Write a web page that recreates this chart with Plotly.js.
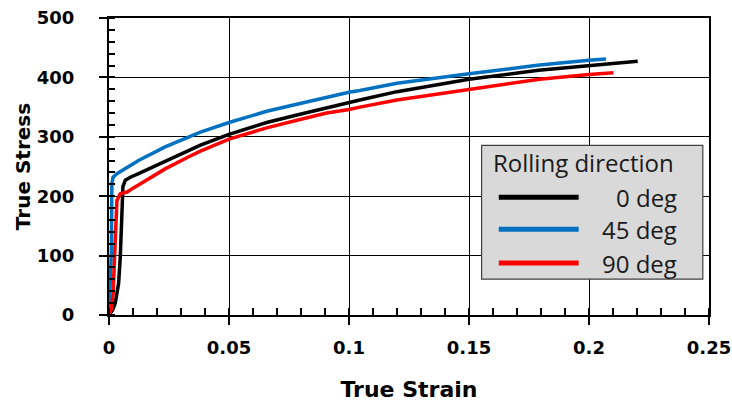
<!DOCTYPE html>
<html>
<head>
<meta charset="utf-8">
<script src="https://cdn.plot.ly/plotly-3.0.1.min.js"></script>
<style>
html,body{margin:0;padding:0;background:#fff;}
#chart{width:732px;height:403px;}
</style>
</head>
<body>
<div id="chart"></div>
<script>
// Data
const names = ["0 deg", "45 deg", "90 deg"];
const colors = ["#000000", "#0070C0", "#FF0000"];

const strain0 = [0, 0.0015, 0.0026, 0.004, 0.0047, 0.0054, 0.0058, 0.0068, 0.0089, 0.0123, 0.0234, 0.033, 0.0381, 0.05, 0.0657, 0.0796, 0.0907, 0.1, 0.1045, 0.12, 0.15, 0.179, 0.2, 0.2203];
const stress0 = [0, 8, 20, 53, 98, 165, 216, 227, 232, 238, 258, 276, 286, 304, 324, 338, 349, 357, 362, 376, 397, 412, 420, 427];

const strain45 = [0, 0.0005, 0.001, 0.0012, 0.0017, 0.0033, 0.0123, 0.0234, 0.0331, 0.0381, 0.05, 0.0657, 0.0796, 0.0907, 0.1, 0.1045, 0.12, 0.15, 0.1794, 0.2, 0.2071];
const stress45 = [0, 40, 109, 221, 232, 238, 260, 283, 300, 308, 324, 343, 356, 367, 375, 378, 390, 406, 421, 429, 431];

const strain90 = [0, 0.001, 0.0017, 0.0022, 0.0026, 0.0033, 0.0047, 0.0075, 0.0102, 0.0234, 0.033, 0.0381, 0.05, 0.0657, 0.0796, 0.0907, 0.1, 0.1045, 0.12, 0.15, 0.1794, 0.2, 0.2102];
const stress90 = [0, 10, 36, 81, 137, 193, 204, 207, 214, 246, 266, 276, 296, 315, 329, 340, 346, 350, 362, 379, 397, 405, 408];

const xs = [strain0, strain45, strain90];
const ys = [stress0, stress45, stress90];

const legendTitle = "Rolling direction";
const xTitle = "True Strain";
const yTitle = "True Stress";

const traces = xs.map((x, i) => ({
  x: x, y: ys[i], name: names[i], type: "scatter", mode: "lines",
  line: {color: colors[i], width: 3.5}, showlegend: false
}));

// manual legend (paper coords)
const legX0 = 0.621, legX1 = 0.9897, legY0 = 0.121, legY1 = 0.5714;
const entryY = [0.3966, 0.2891, 0.1748];
const legFont = {family: "'Open Sans', Lato, sans-serif", size: 24, color: "#1a1a1a"};
const shapes = [{
  type: "rect", xref: "paper", yref: "paper", x0: legX0, x1: legX1, y0: legY0, y1: legY1,
  fillcolor: "#d9d9d9", line: {color: "#404040", width: 1.2}, layer: "above"
}];
const annotations = [{
  xref: "paper", yref: "paper", x: 0.637, y: 0.5143, xanchor: "left", yanchor: "middle",
  text: legendTitle, showarrow: false, font: legFont
}];
names.forEach((n, i) => {
  shapes.push({type: "line", xref: "paper", yref: "paper", x0: 0.6496, x1: 0.7828, y0: entryY[i], y1: entryY[i],
    line: {color: colors[i], width: 5}, layer: "above"});
  annotations.push({xref: "paper", yref: "paper", x: 0.9494, y: entryY[i], xanchor: "right", yanchor: "middle",
    text: n, showarrow: false, font: legFont});
});

const tickFont = {family: "'DejaVu Sans', sans-serif", size: 18, color: "#000", weight: "bold"};

const layout = {
  width: 732, height: 403,
  margin: {l: 108.7, r: 22.5, t: 17.5, b: 88, pad: 0},
  paper_bgcolor: "#fff", plot_bgcolor: "#fff",
  xaxis: {
    range: [0, 0.25], dtick: 0.05, tick0: 0,
    showline: true, linecolor: "#000", linewidth: 2, mirror: true,
    showgrid: true, gridcolor: "#000", gridwidth: 1, zeroline: false,
    ticks: "outside", ticklen: 8, tickwidth: 2, tickcolor: "#000",
    minor: {ticks: "inside", dtick: 0.01, ticklen: 7, tickwidth: 2, tickcolor: "#000", showgrid: false},
    tickfont: tickFont, ticklabelstandoff: 7,
    title: {text: xTitle, font: {family: "'DejaVu Sans', sans-serif", size: 22, color: "#000", weight: "bold"}, standoff: 25}
  },
  yaxis: {
    range: [0, 500], dtick: 100, tick0: 0,
    showline: true, linecolor: "#000", linewidth: 2, mirror: true,
    showgrid: true, gridcolor: "#000", gridwidth: 1, zeroline: false,
    ticks: "outside", ticklen: 8, tickwidth: 2, tickcolor: "#000",
    minor: {ticks: "inside", dtick: 20, ticklen: 6, tickwidth: 2, tickcolor: "#000", showgrid: false},
    tickfont: tickFont, ticklabelstandoff: 21,
    title: {text: yTitle, font: {family: "'DejaVu Sans', sans-serif", size: 20, color: "#000", weight: "bold"}, standoff: 1}
  },
  shapes: shapes,
  annotations: annotations
};

Plotly.newPlot("chart", traces, layout, {staticPlot: true, displayModeBar: false});
</script>
</body>
</html>
